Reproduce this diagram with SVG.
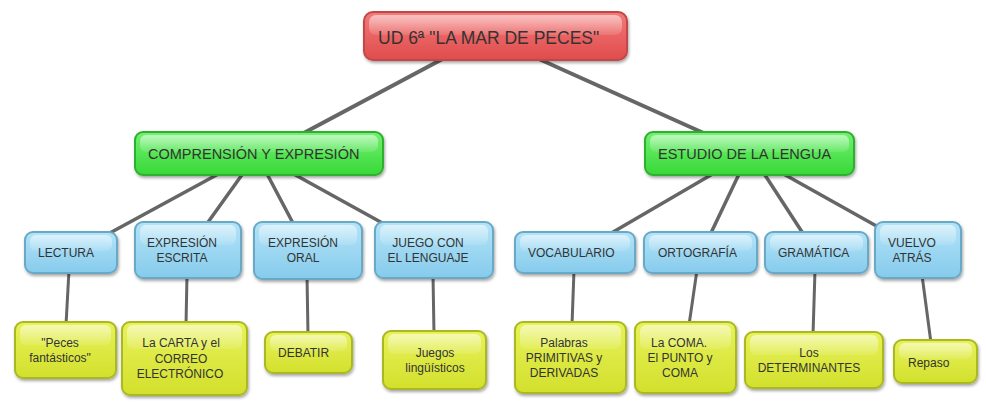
<svg xmlns="http://www.w3.org/2000/svg" width="986" height="405" viewBox="0 0 986 405">
<defs>
<linearGradient id="gRed" x1="0" y1="0" x2="0" y2="1"><stop offset="0" stop-color="#f47a7a"/><stop offset="1" stop-color="#e04c4c"/></linearGradient>
<linearGradient id="gGreen" x1="0" y1="0" x2="0" y2="1"><stop offset="0" stop-color="#72f272"/><stop offset="1" stop-color="#38d838"/></linearGradient>
<linearGradient id="gBlue" x1="0" y1="0" x2="0" y2="1"><stop offset="0" stop-color="#b4e4f8"/><stop offset="1" stop-color="#86cbec"/></linearGradient>
<linearGradient id="gYellow" x1="0" y1="0" x2="0" y2="1"><stop offset="0" stop-color="#e8f25a"/><stop offset="1" stop-color="#d2e02c"/></linearGradient>
<linearGradient id="gHi" x1="0" y1="0" x2="0" y2="1"><stop offset="0" stop-color="#ffffff" stop-opacity="0.55"/><stop offset="1" stop-color="#ffffff" stop-opacity="0.1"/></linearGradient>
<filter id="sh" x="-10%" y="-10%" width="125%" height="140%"><feDropShadow dx="1" dy="2" stdDeviation="1.5" flood-color="#000" flood-opacity="0.35"/></filter>
</defs>
<style>
.red{fill:url(#gRed);stroke:#c24646;stroke-width:2;filter:url(#sh)}
.green{fill:url(#gGreen);stroke:#2fb02f;stroke-width:2;filter:url(#sh)}
.blue{fill:url(#gBlue);stroke:#6aa9c6;stroke-width:2;filter:url(#sh)}
.yellow{fill:url(#gYellow);stroke:#aab824;stroke-width:2;filter:url(#sh)}
.hi{fill:url(#gHi)}
text{font-family:"Liberation Sans",Arial,sans-serif;fill:#333}
.t0{font-size:17.5px}
.t1{font-size:14.5px}
.t2{font-size:12px}
.c{text-anchor:middle}
.ln{stroke:#666;stroke-linecap:butt;fill:none}
</style>
<rect width="986" height="405" fill="#ffffff"/>
<g id="connectors">
<line class="ln" stroke-width="4" x1="450" y1="55" x2="300" y2="135"/>
<line class="ln" stroke-width="4" x1="530" y1="55" x2="708" y2="135"/>
<line class="ln" stroke-width="3.5" x1="222" y1="172" x2="108" y2="234"/>
<line class="ln" stroke-width="3.5" x1="244" y1="172" x2="206" y2="225"/>
<line class="ln" stroke-width="3.5" x1="266" y1="172" x2="294" y2="225"/>
<line class="ln" stroke-width="3.5" x1="290" y1="172" x2="386" y2="225"/>
<line class="ln" stroke-width="3.5" x1="716" y1="172" x2="608" y2="235"/>
<line class="ln" stroke-width="3.5" x1="740" y1="172" x2="710" y2="235"/>
<line class="ln" stroke-width="3.5" x1="763" y1="172" x2="804" y2="235"/>
<line class="ln" stroke-width="3.5" x1="780" y1="172" x2="880" y2="228"/>
<line class="ln" stroke-width="3" x1="69" y1="270" x2="66" y2="325"/>
<line class="ln" stroke-width="3" x1="187" y1="275" x2="186" y2="325"/>
<line class="ln" stroke-width="3" x1="307" y1="276" x2="308" y2="335"/>
<line class="ln" stroke-width="3" x1="433" y1="275" x2="434" y2="334"/>
<line class="ln" stroke-width="3" x1="574" y1="270" x2="572" y2="325"/>
<line class="ln" stroke-width="3" x1="697" y1="270" x2="689" y2="325"/>
<line class="ln" stroke-width="3" x1="815" y1="270" x2="813" y2="335"/>
<line class="ln" stroke-width="3" x1="922" y1="275" x2="931" y2="343"/>
</g>
<g id="root">
<rect class="red" x="364" y="12" width="263" height="48" rx="9"/>
<rect class="hi" x="369" y="15" width="253" height="20" rx="7"/>
<text class="t0" x="378" y="44">UD 6ª "LA MAR DE PECES"</text>
</g>
<g id="comprension">
<rect class="green" x="135" y="132" width="248" height="43" rx="8"/>
<rect class="hi" x="140" y="135" width="238" height="17" rx="6"/>
<text class="t1" x="148" y="159">COMPRENSIÓN Y EXPRESIÓN</text>
</g>
<g id="estudio">
<rect class="green" x="645" y="132" width="209" height="43" rx="8"/>
<rect class="hi" x="650" y="135" width="199" height="17" rx="6"/>
<text class="t1" x="658" y="159">ESTUDIO DE LA LENGUA</text>
</g>
<g id="lectura">
<rect class="blue" x="25" y="232" width="92" height="41" rx="8"/>
<rect class="hi" x="30" y="235" width="82" height="16" rx="6"/>
<text class="t2" x="38" y="257">LECTURA</text>
</g>
<g id="expresion-escrita">
<rect class="blue" x="135" y="222" width="106" height="56" rx="8"/>
<rect class="hi" x="140" y="225" width="96" height="20" rx="6"/>
<text class="t2 c" x="182" y="247">EXPRESIÓN</text>
<text class="t2 c" x="182" y="262">ESCRITA</text>
</g>
<g id="expresion-oral">
<rect class="blue" x="254" y="222" width="108" height="57" rx="8"/>
<rect class="hi" x="259" y="225" width="98" height="20" rx="6"/>
<text class="t2 c" x="303" y="247">EXPRESIÓN</text>
<text class="t2 c" x="303" y="262">ORAL</text>
</g>
<g id="juego-lenguaje">
<rect class="blue" x="375" y="222" width="118" height="56" rx="8"/>
<rect class="hi" x="380" y="225" width="108" height="20" rx="6"/>
<text class="t2 c" x="428" y="247">JUEGO CON</text>
<text class="t2 c" x="428" y="262">EL LENGUAJE</text>
</g>
<g id="vocabulario">
<rect class="blue" x="515" y="232" width="120" height="41" rx="8"/>
<rect class="hi" x="520" y="235" width="110" height="16" rx="6"/>
<text class="t2" x="528" y="257">VOCABULARIO</text>
</g>
<g id="ortografia">
<rect class="blue" x="644" y="232" width="113" height="41" rx="8"/>
<rect class="hi" x="649" y="235" width="103" height="16" rx="6"/>
<text class="t2" x="658" y="257">ORTOGRAFÍA</text>
</g>
<g id="gramatica">
<rect class="blue" x="765" y="232" width="103" height="41" rx="8"/>
<rect class="hi" x="770" y="235" width="93" height="16" rx="6"/>
<text class="t2" x="778" y="257">GRAMÁTICA</text>
</g>
<g id="vuelvo-atras">
<rect class="blue" x="875" y="222" width="86" height="56" rx="8"/>
<rect class="hi" x="880" y="225" width="76" height="20" rx="6"/>
<text class="t2 c" x="912" y="247">VUELVO</text>
<text class="t2 c" x="912" y="262">ATRÁS</text>
</g>
<g id="peces">
<rect class="yellow" x="15" y="322" width="101" height="56" rx="8"/>
<rect class="hi" x="20" y="325" width="91" height="20" rx="6"/>
<text class="t2 c" x="60" y="347">"Peces</text>
<text class="t2 c" x="60" y="362">fantásticos"</text>
</g>
<g id="carta">
<rect class="yellow" x="122" y="322" width="125" height="73" rx="8"/>
<rect class="hi" x="127" y="325" width="115" height="24" rx="6"/>
<text class="t2 c" x="181" y="347">La CARTA y el</text>
<text class="t2 c" x="181" y="363">CORREO</text>
<text class="t2 c" x="180" y="378">ELECTRÓNICO</text>
</g>
<g id="debatir">
<rect class="yellow" x="265" y="332" width="87" height="41" rx="8"/>
<rect class="hi" x="270" y="335" width="77" height="16" rx="6"/>
<text class="t2" x="278" y="357">DEBATIR</text>
</g>
<g id="juegos">
<rect class="yellow" x="383" y="331" width="103" height="58" rx="8"/>
<rect class="hi" x="388" y="334" width="93" height="20" rx="6"/>
<text class="t2 c" x="435" y="357">Juegos</text>
<text class="t2 c" x="435" y="372">lingüísticos</text>
</g>
<g id="palabras">
<rect class="yellow" x="515" y="322" width="111" height="71" rx="8"/>
<rect class="hi" x="520" y="325" width="101" height="24" rx="6"/>
<text class="t2 c" x="564" y="347">Palabras</text>
<text class="t2 c" x="564" y="362">PRIMITIVAS y</text>
<text class="t2 c" x="564" y="377">DERIVADAS</text>
</g>
<g id="coma">
<rect class="yellow" x="635" y="322" width="101" height="71" rx="8"/>
<rect class="hi" x="640" y="325" width="91" height="24" rx="6"/>
<text class="t2 c" x="679" y="347">La COMA.</text>
<text class="t2 c" x="680" y="362">El PUNTO y</text>
<text class="t2 c" x="680" y="377">COMA</text>
</g>
<g id="determinantes">
<rect class="yellow" x="745" y="332" width="138" height="56" rx="8"/>
<rect class="hi" x="750" y="335" width="128" height="20" rx="6"/>
<text class="t2 c" x="809" y="357">Los</text>
<text class="t2 c" x="809" y="372">DETERMINANTES</text>
</g>
<g id="repaso">
<rect class="yellow" x="894" y="340" width="83" height="43" rx="8"/>
<rect class="hi" x="899" y="343" width="73" height="16" rx="6"/>
<text class="t2" x="908" y="367">Repaso</text>
</g>
</svg>
